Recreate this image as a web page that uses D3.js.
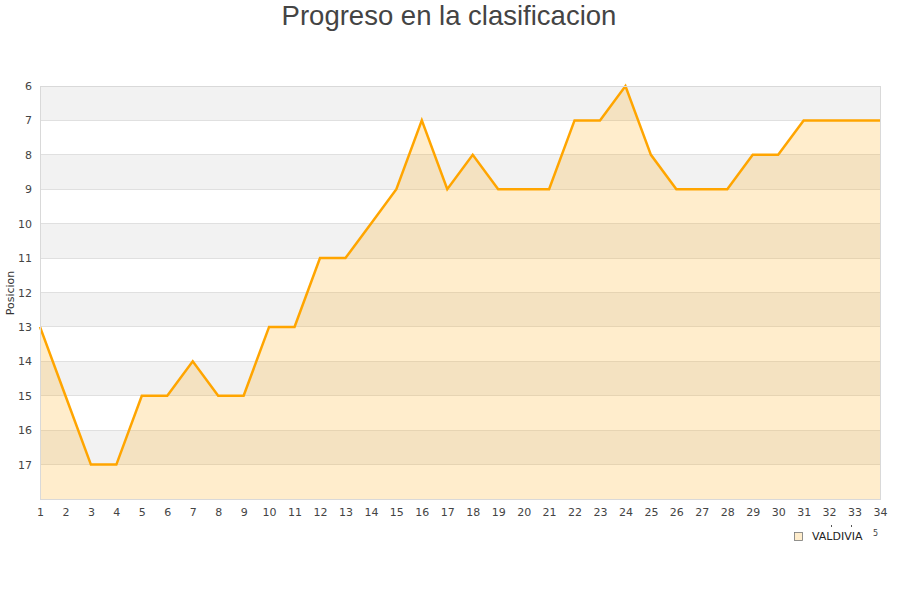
<!DOCTYPE html>
<html>
<head>
<meta charset="utf-8">
<script src="https://cdn.jsdelivr.net/npm/d3@7"></script>
<style>
  body { margin: 0; background: #fff; }
  svg { display: block; font-family: "DejaVu Sans", sans-serif; }
</style>
</head>
<body>
<svg id="chart" width="900" height="600"></svg>
<script>
// jornadas and position per jornada
const rounds = d3.range(1, 35);
const positions = [13, 15, 17, 17, 15, 15, 14, 15, 15, 13, 13, 11, 11, 10, 9, 7, 9, 8, 9, 9,
  9, 7, 7, 6, 8, 9, 9, 9, 8, 8, 7, 7, 7, 7];
const yTicks = d3.range(6, 18);
const teamName = "VALDIVIA";

const svg = d3.select("#chart");
const m = { left: 40, right: 880, top: 86, bottom: 499 };

const x = d3.scaleLinear().domain([1, 34]).range([m.left, m.right]);
const y = d3.scaleLinear().domain([6, 18]).range([m.top, m.bottom]);

// title
svg.append("text")
  .attr("x", 449).attr("y", 25)
  .attr("text-anchor", "middle")
  .attr("font-family", "'Liberation Sans', Arial, sans-serif")
  .attr("font-size", 27.5).attr("fill", "#444")
  .text("Progreso en la clasificacion");

// alternating bands, grey on even rows
svg.append("g").selectAll("rect")
  .data(d3.range(6, 18))
  .join("rect")
  .attr("x", m.left).attr("width", m.right - m.left)
  .attr("y", (d) => y(d)).attr("height", (d) => y(d + 1) - y(d))
  .attr("fill", (d) => (d % 2 === 0 ? "#f2f2f2" : "#ffffff"));

// grid lines
svg.append("g").selectAll("line")
  .data(d3.range(7, 18))
  .join("line")
  .attr("x1", m.left).attr("x2", m.right)
  .attr("y1", (d) => y(d)).attr("y2", (d) => y(d))
  .attr("stroke", "#e0e0e0").attr("stroke-width", 1).attr("shape-rendering", "crispEdges");

const data = rounds.map((r, i) => ({ r, p: positions[i] }));

// area down to the bottom of the plot
svg.append("path")
  .datum(data)
  .attr("fill", "#ffa500").attr("fill-opacity", 0.2)
  .attr("d", d3.area().x((d) => x(d.r)).y0(y(18)).y1((d) => y(d.p)));

svg.append("path")
  .datum(data)
  .attr("fill", "none").attr("stroke", "#ffa500").attr("stroke-width", 2.5)
  .attr("stroke-linejoin", "miter")
  .attr("d", d3.line().x((d) => x(d.r)).y((d) => y(d.p)));

// frame
svg.append("rect")
  .attr("x", m.left).attr("y", m.top)
  .attr("width", m.right - m.left).attr("height", m.bottom - m.top)
  .attr("fill", "none").attr("stroke", "#d9d9d9").attr("shape-rendering", "crispEdges");

// y axis labels
const yAxis = svg.append("g")
  .attr("transform", `translate(${m.left - 8},0)`)
  .call(d3.axisLeft(y).tickValues(yTicks).tickSize(0).tickPadding(0).tickFormat(d3.format("d")));
yAxis.select(".domain").remove();
yAxis.selectAll("text").attr("font-size", 11).attr("fill", "#444")
  .attr("font-family", "'DejaVu Sans', sans-serif").attr("dy", "0.32em");

// x axis labels
const xAxis = svg.append("g")
  .attr("transform", `translate(0,${m.bottom + 9})`)
  .call(d3.axisBottom(x).tickValues(rounds).tickSize(0).tickPadding(0).tickFormat(d3.format("d")));
xAxis.select(".domain").remove();
xAxis.selectAll("text").attr("font-size", 11).attr("fill", "#444")
  .attr("font-family", "'DejaVu Sans', sans-serif");

// y axis title
svg.append("text")
  .attr("transform", "translate(14,293) rotate(-90)")
  .attr("text-anchor", "middle")
  .attr("font-size", 11).attr("fill", "#333")
  .text("Posicion");

// legend
svg.append("rect")
  .attr("x", 794.5).attr("y", 532.5).attr("width", 8).attr("height", 8)
  .attr("fill", "#ffedcc").attr("stroke", "#777").attr("stroke-width", 0.8);
svg.append("text")
  .attr("x", 812).attr("y", 540)
  .attr("font-size", 11).attr("fill", "#222")
  .text(teamName);

// clipped x-axis title fragments in the corner
svg.append("text").attr("x", 873).attr("y", 536).attr("font-size", 8).attr("fill", "#444").text("5");
svg.append("g").selectAll("rect")
  .data([831, 851])
  .join("rect")
  .attr("x", (d) => d).attr("y", 525).attr("width", 1).attr("height", 2)
  .attr("fill", "#555");
</script>
</body>
</html>
